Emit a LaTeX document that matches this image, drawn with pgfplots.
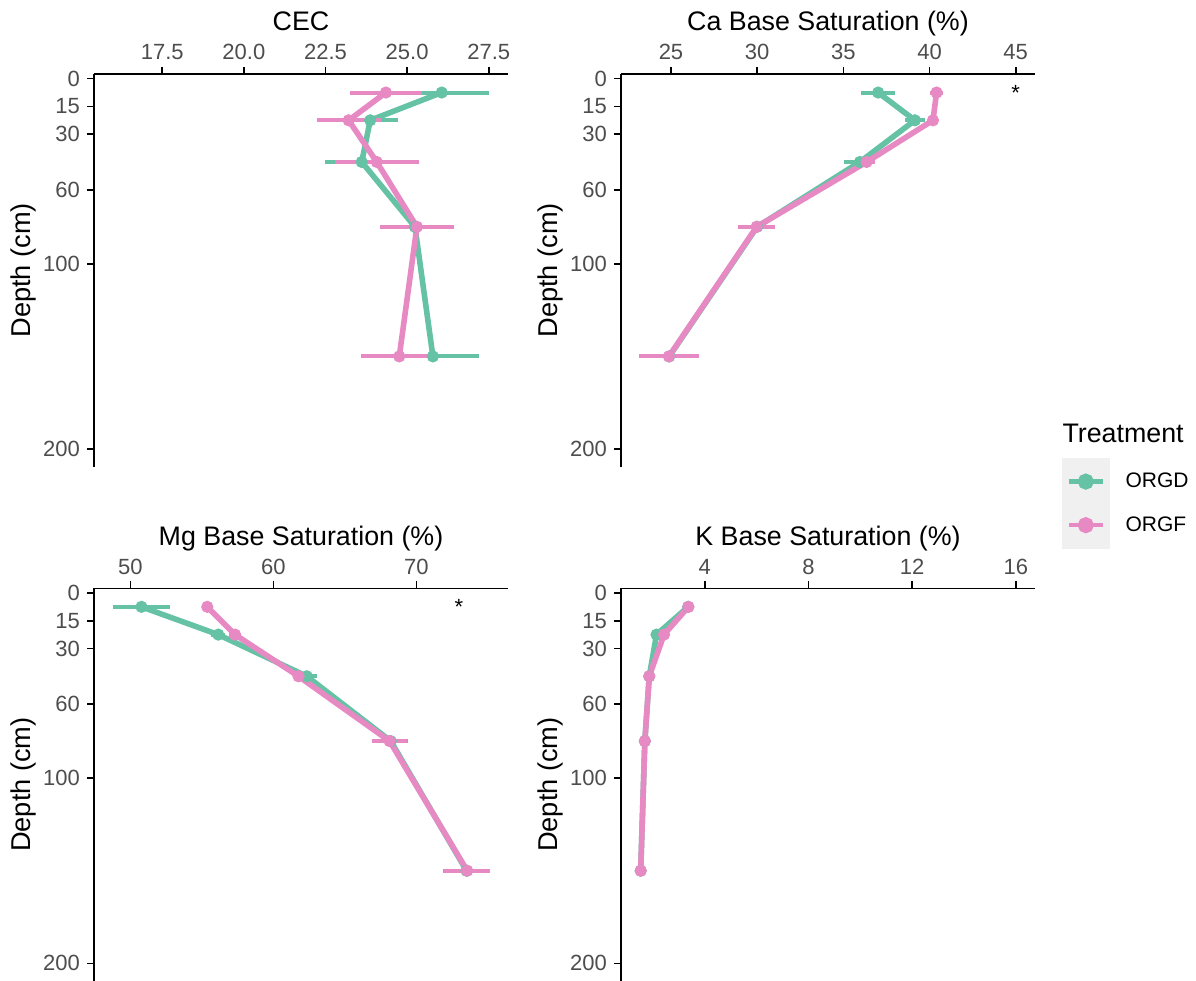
\documentclass[border=0pt]{standalone}
\usepackage{fontspec}
\setmainfont{Liberation Sans}
\usepackage{pgfplots}
\usepackage{pgfplotstable}
\pgfplotsset{compat=1.18}
\definecolor{cD}{HTML}{66C2A5}
\definecolor{cF}{HTML}{E78AC3}
\definecolor{tickgray}{HTML}{4D4D4D}

% CEC
\pgfplotstableread{
v depth e
26.06 7.5 1.46
23.87 22.5 0.86
23.61 45 1.14
25.24 80 0.25
25.79 150 1.40
}\cecD
\pgfplotstableread{
v depth e
24.35 7.5 1.10
23.21 22.5 0.98
24.07 45 1.29
25.30 80 1.14
24.76 150 1.18
}\cecF
% Ca
\pgfplotstableread{
v depth e
37.02 7.5 0.97
39.15 22.5 0.60
35.96 45 0.90
30.00 80 1.00
24.90 150 1.75
}\caD
\pgfplotstableread{
v depth e
40.41 7.5 0.40
40.20 22.5 0.20
36.35 45 0.50
29.97 80 1.07
24.88 150 1.75
}\caF
% Mg
\pgfplotstableread{
v depth e
50.77 7.5 2.00
56.14 22.5 0.50
62.33 45 0.70
68.20 80 1.20
73.50 150 1.65
}\mgD
\pgfplotstableread{
v depth e
55.37 7.5 0.30
57.31 22.5 0.40
61.75 45 0.40
68.12 80 1.20
73.55 150 1.60
}\mgF
% K
\pgfplotstableread{
v depth e
3.36 7.5 0.10
2.14 22.5 0.10
1.86 45 0.10
1.69 80 0.10
1.53 150 0.10
}\kD
\pgfplotstableread{
v depth e
3.37 7.5 0.10
2.43 22.5 0.10
1.86 45 0.05
1.69 80 0.05
1.53 150 0.05
}\kF

\tikzset{ptitle/.style={anchor=base, font=\fontsize{13.4}{16}\selectfont, yshift=21.65pt, inner sep=0pt}}
\pgfplotsset{
  panel/.style={
    scale only axis, width=207pt, height=196.3pt,
    y dir=reverse, ymin=-2.5, ymax=209.5,
    axis x line*=top, axis y line*=left,
    axis line style={black, line width=0.8pt},
    tick align=outside, major tick length=3.5pt,
    tick style={black, line width=0.8pt},
    ytick={0,15,30,60,100,200},
    yticklabels={0,15,30,60,100,200},
    ticklabel style={font=\fontsize{11}{13}\selectfont, text=tickgray},
    every axis y label/.style={at={(axis description cs:-0.1715,0.5)}, rotate=90, anchor=center, font=\fontsize{13.6}{16}\selectfont},
    ylabel={Depth (cm)},
    clip=false,
    legend image code/.code={
      \fill[black!6] (0pt,-10.6pt) rectangle (21pt,10.6pt);
      \draw[line width=2.2pt] (2pt,0pt) -- (19pt,0pt);
      \fill (10.5pt,0pt) circle (2.6pt);
    },
  },
  serD/.style={cD, line width=2.8pt, mark=*, mark size=2.8pt, mark options={solid, line width=0.5pt},
    error bars/.cd, x dir=both, x explicit, error mark=none, error bar style={line width=2pt, cD}},
  serF/.style={cF, line width=2.8pt, mark=*, mark size=2.8pt, mark options={solid, line width=0.5pt},
    error bars/.cd, x dir=both, x explicit, error mark=none, error bar style={line width=2pt, cF}},
}

\begin{document}
\begin{tikzpicture}
\useasboundingbox (0,0) rectangle (598pt,-490.5pt);

% Panel 1: CEC
\begin{axis}[panel, at={(47pt,-37pt)}, anchor=north west,
  xmin=15.41, xmax=28.09,
  xtick={17.5,20,22.5,25,27.5}, xticklabels={17.5,20.0,22.5,25.0,27.5}]
  \addplot[serD] table[x=v, y=depth, x error=e] {\cecD};
  \addplot[serF] table[x=v, y=depth, x error=e] {\cecF};
  \node[ptitle] at (axis description cs:0.5,1) {CEC};
\end{axis}

% Panel 2: Ca
\begin{axis}[panel, at={(310.5pt,-37pt)}, anchor=north west,
  xmin=22.1, xmax=46.12,
  xtick={25,30,35,40,45}, xticklabels={25,30,35,40,45},
  legend style={at={(axis description cs:1.0652,0.023)}, anchor=north west, draw=none, fill=none,
    inner sep=0pt, outer sep=0pt, row sep=-2.2pt, column sep=8pt,
    font=\fontsize{10.5}{12}\selectfont, nodes={inner sep=0pt}, cells={anchor=west}}]
  \addplot[serD] table[x=v, y=depth, x error=e] {\caD};
  \addlegendentry{ORGD}
  \addplot[serF] table[x=v, y=depth, x error=e] {\caF};
  \addlegendentry{ORGF}
  \node[ptitle] at (axis description cs:0.5,1) {Ca Base Saturation (\%)};
  \node[font=\fontsize{11}{13}\selectfont] at (axis cs:45,7.5) {*};
  \node[anchor=base west, inner sep=0pt, font=\fontsize{13.4}{16}\selectfont] at (axis description cs:1.0655,0.061) {Treatment};
\end{axis}

% Panel 3: Mg
\begin{axis}[panel, at={(47pt,-294.15pt)}, anchor=north west,
  xmin=47.45, xmax=76.4,
  xtick={50,60,70}, xticklabels={50,60,70}]
  \addplot[serD] table[x=v, y=depth, x error=e] {\mgD};
  \addplot[serF] table[x=v, y=depth, x error=e] {\mgF};
  \node[ptitle] at (axis description cs:0.5,1) {Mg Base Saturation (\%)};
  \node[font=\fontsize{11}{13}\selectfont] at (axis cs:72.96,7.5) {*};
\end{axis}

% Panel 4: K
\begin{axis}[panel, at={(310.5pt,-294.15pt)}, anchor=north west,
  xmin=0.77, xmax=16.74,
  xtick={4,8,12,16}, xticklabels={4,8,12,16}]
  \addplot[serD] table[x=v, y=depth, x error=e] {\kD};
  \addplot[serF] table[x=v, y=depth, x error=e] {\kF};
  \node[ptitle] at (axis description cs:0.5,1) {K Base Saturation (\%)};
\end{axis}
\end{tikzpicture}
\end{document}
